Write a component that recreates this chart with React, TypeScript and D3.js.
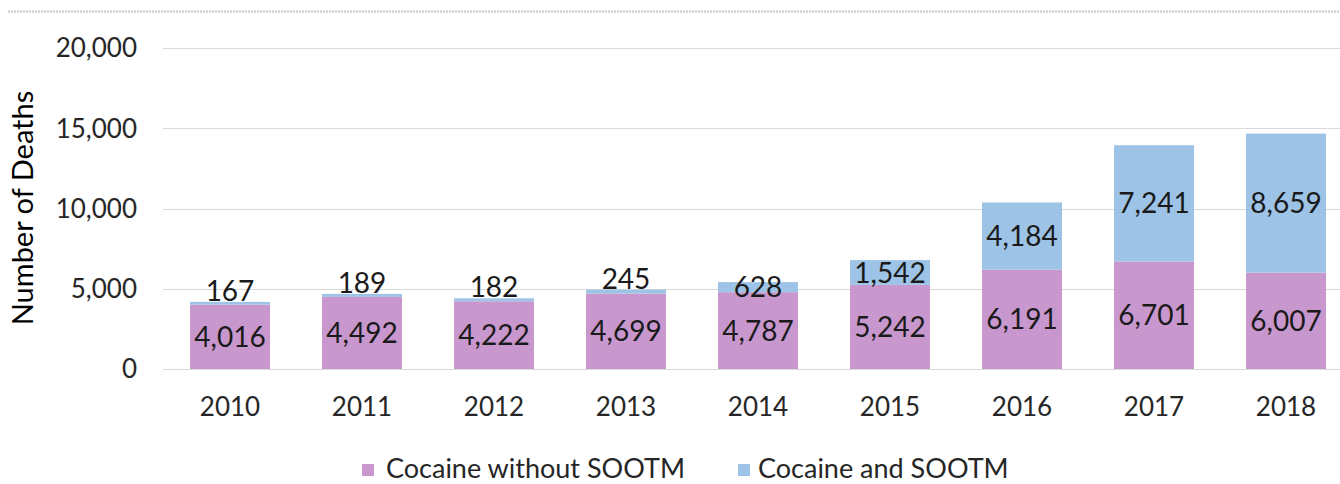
import * as d3 from 'd3';

const years = ['2010', '2011', '2012', '2013', '2014', '2015', '2016', '2017', '2018'];
const withoutSootm = [4016, 4492, 4222, 4699, 4787, 5242, 6191, 6701, 6007];
const withSootm = [167, 189, 182, 245, 628, 1542, 4184, 7241, 8659];
const yTicks = [0, 5000, 10000, 15000, 20000];
const seriesNames = ['Cocaine without SOOTM', 'Cocaine and SOOTM'];

const PINK = '#c897ce';
const BLUE = '#9dc3e6';
const FONT = 'Lato, "Open Sans", sans-serif';

export default function App() {
    const width = 1340;
    const height = 484;

    const x = d3.scaleBand<string>().domain(years).range([164, 1352]).paddingInner(0.394).paddingOuter(0.197);
    const y = d3.scaleLinear().domain([0, 20000]).range([369, 48]);
    const fmt = d3.format(',');

    const stacked = years.map((yr, i) => ({
        year: yr,
        a: withoutSootm[i],
        b: withSootm[i],
    }));

    return (
        <svg width={width} height={height} style={{ position: 'absolute', left: 0, top: 0 }} fontFamily={FONT}>
            <rect width={width} height={height} fill="#fff" />
            {/* top frame line */}
            <line x1={8} x2={width} y1={11.5} y2={11.5} stroke="#c8c8c8" strokeWidth={2} strokeDasharray="2,1" />

            {/* grid + y ticks */}
            {yTicks.map((t) => (
                <g key={t}>
                    <line x1={163} x2={width} y1={Math.round(y(t)) + 0.5} y2={Math.round(y(t)) + 0.5} stroke="#d9d9d9" strokeWidth={1} />
                    <text x={137} y={y(t)} dy="0.36em" textAnchor="end" fontSize={26} fill="#262626">
                        {fmt(t)}
                    </text>
                </g>
            ))}

            <text transform={`translate(23,208) rotate(-90)`} textAnchor="middle" dy="0.36em" fontSize={29} fill="#000">
                Number of Deaths
            </text>

            {/* bars */}
            {stacked.map((d) => {
                const x0 = x(d.year)!;
                const bw = x.bandwidth();
                const yA = y(d.a);
                const yB = y(d.a + d.b);
                const hB = y(d.a) - yB;
                // tiny segments get their label just above the bar
                const labelBY = hB < 6 ? yB - 11 : (yA + yB) / 2;
                return (
                    <g key={d.year}>
                        <rect x={x0} y={yA} width={bw} height={y(0) - yA} fill={PINK} />
                        <rect x={x0} y={yB} width={bw} height={hB} fill={BLUE} />
                        <text x={x0 + bw / 2} y={(y(0) + yA) / 2} dy="0.36em" textAnchor="middle" fontSize={28} fill="#1a1a1a">
                            {fmt(d.a)}
                        </text>
                        <text x={x0 + bw / 2} y={labelBY} dy="0.36em" textAnchor="middle" fontSize={28} fill="#1a1a1a">
                            {fmt(d.b)}
                        </text>
                        <text x={x0 + bw / 2} y={407} dy="0.36em" textAnchor="middle" fontSize={26} fill="#262626">
                            {d.year}
                        </text>
                    </g>
                );
            })}

            {/* legend */}
            <rect x={362} y={464} width={12} height={12} fill={PINK} />
            <text x={386} y={478} fontSize={27} fill="#262626">
                {seriesNames[0]}
            </text>
            <rect x={738} y={464} width={12} height={12} fill={BLUE} />
            <text x={758} y={478} fontSize={27} fill="#262626">
                {seriesNames[1]}
            </text>
        </svg>
    );
}
